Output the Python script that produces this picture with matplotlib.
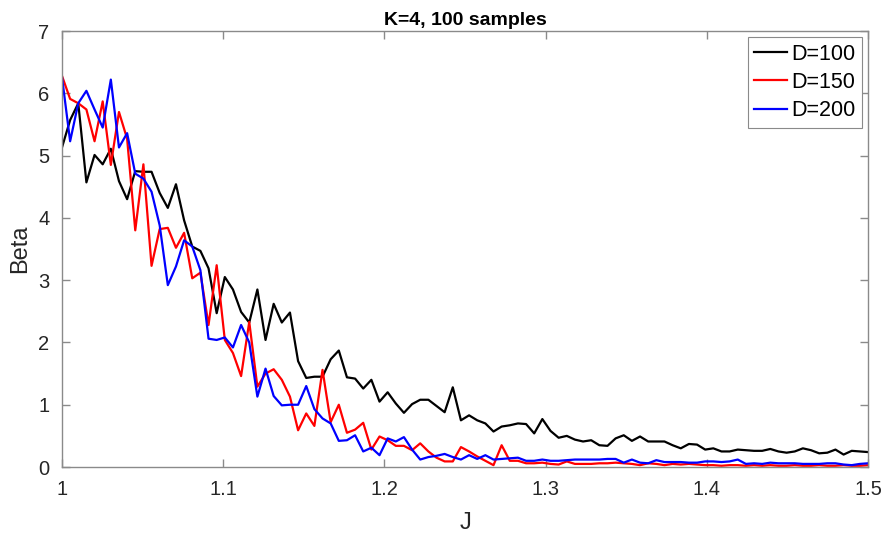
import numpy as np
import matplotlib
matplotlib.use('Agg')
import matplotlib.pyplot as plt
from matplotlib.ticker import FormatStrFormatter

plt.rcParams['font.family'] = ['Liberation Sans', 'DejaVu Sans']

# J values: 100 samples between 1 and 1.5
J = np.linspace(1.0, 1.5, 100)

beta_d100 = [5.13, 5.57, 5.84, 4.57, 5.01, 4.86, 5.11, 4.59, 4.30, 4.75,
             4.74, 4.74, 4.40, 4.16, 4.54, 3.96, 3.54, 3.47, 3.19, 2.47,
             3.05, 2.85, 2.49, 2.32, 2.85, 2.04, 2.62, 2.32, 2.48, 1.70,
             1.43, 1.45, 1.45, 1.73, 1.87, 1.44, 1.42, 1.26, 1.40, 1.05,
             1.20, 1.02, 0.87, 1.01, 1.08, 1.08, 0.98, 0.88, 1.28, 0.75,
             0.83, 0.75, 0.70, 0.57, 0.65, 0.67, 0.70, 0.69, 0.54, 0.77,
             0.58, 0.47, 0.50, 0.44, 0.41, 0.43, 0.35, 0.34, 0.46, 0.51,
             0.42, 0.49, 0.41, 0.41, 0.41, 0.35, 0.30, 0.37, 0.36, 0.28,
             0.30, 0.25, 0.25, 0.28, 0.27, 0.26, 0.26, 0.29, 0.25, 0.23,
             0.25, 0.30, 0.27, 0.22, 0.23, 0.28, 0.20, 0.26, 0.25, 0.24]

beta_d150 = [6.28, 5.91, 5.84, 5.74, 5.23, 5.87, 4.85, 5.70, 5.27, 3.80,
             4.86, 3.23, 3.82, 3.84, 3.52, 3.76, 3.03, 3.12, 2.28, 3.24,
             2.04, 1.83, 1.46, 2.33, 1.29, 1.50, 1.57, 1.40, 1.13, 0.59,
             0.86, 0.66, 1.56, 0.72, 1.00, 0.55, 0.60, 0.71, 0.28, 0.49,
             0.43, 0.34, 0.34, 0.27, 0.38, 0.25, 0.15, 0.09, 0.09, 0.32,
             0.25, 0.17, 0.10, 0.03, 0.35, 0.10, 0.10, 0.06, 0.06, 0.07,
             0.05, 0.04, 0.09, 0.05, 0.05, 0.05, 0.06, 0.06, 0.07, 0.06,
             0.05, 0.03, 0.06, 0.05, 0.03, 0.05, 0.04, 0.05, 0.04, 0.03,
             0.03, 0.02, 0.03, 0.03, 0.02, 0.03, 0.02, 0.03, 0.02, 0.02,
             0.03, 0.02, 0.02, 0.03, 0.02, 0.02, 0.03, 0.02, 0.02, 0.03]

beta_d200 = [6.26, 5.23, 5.84, 6.04, 5.74, 5.45, 6.22, 5.13, 5.36, 4.71,
             4.63, 4.42, 3.88, 2.92, 3.22, 3.64, 3.54, 3.16, 2.06, 2.04,
             2.08, 1.92, 2.28, 2.00, 1.13, 1.58, 1.14, 0.99, 1.00, 1.00,
             1.30, 0.93, 0.78, 0.70, 0.42, 0.43, 0.51, 0.25, 0.31, 0.19,
             0.46, 0.41, 0.48, 0.28, 0.12, 0.16, 0.18, 0.21, 0.16, 0.12,
             0.19, 0.13, 0.19, 0.12, 0.13, 0.14, 0.15, 0.10, 0.10, 0.12,
             0.10, 0.10, 0.11, 0.12, 0.12, 0.12, 0.12, 0.13, 0.13, 0.07,
             0.12, 0.07, 0.06, 0.11, 0.08, 0.08, 0.08, 0.07, 0.07, 0.09,
             0.09, 0.08, 0.09, 0.12, 0.05, 0.06, 0.05, 0.07, 0.06, 0.06,
             0.06, 0.05, 0.05, 0.05, 0.06, 0.06, 0.04, 0.03, 0.05, 0.06]

fig = plt.figure(figsize=(8.88, 5.44), dpi=100)
ax = fig.add_axes([0.0698, 0.1415, 0.9077, 0.8015])

ax.plot(J, beta_d100, c='k', lw=1.6, label='D=100')
ax.plot(J, beta_d150, c='r', lw=1.6, label='D=150')
ax.plot(J, beta_d200, c='b', lw=1.6, label='D=200')

ax.set_xlim(1, 1.5)
ax.set_ylim(0, 7)
ax.set_xticks([1, 1.1, 1.2, 1.3, 1.4, 1.5])
ax.set_yticks(range(0, 8))
ax.xaxis.set_major_formatter(FormatStrFormatter('%g'))

gray = '#8a8a8a'
for s in ax.spines.values():
    s.set_color(gray)
    s.set_linewidth(1.0)
ax.tick_params(direction='in', length=6, width=1.0, color=gray,
               labelsize=14.5, labelcolor='#262626',
               top=True, right=True, pad=9)

ax.set_xlabel('J', fontsize=17, color='#262626', labelpad=10)
ax.set_ylabel('Beta', fontsize=17, color='#262626', labelpad=5)
ax.set_title('K=4, 100 samples', fontsize=14, fontweight='bold', pad=4)

leg = ax.legend(loc='upper right', fontsize=15.5, fancybox=False,
                edgecolor=gray, framealpha=1, borderaxespad=0.3,
                borderpad=0.3, labelspacing=0.33, handlelength=1.5,
                handletextpad=0.2)
leg.get_frame().set_linewidth(0.8)

plt.savefig('out.png', dpi=100)
